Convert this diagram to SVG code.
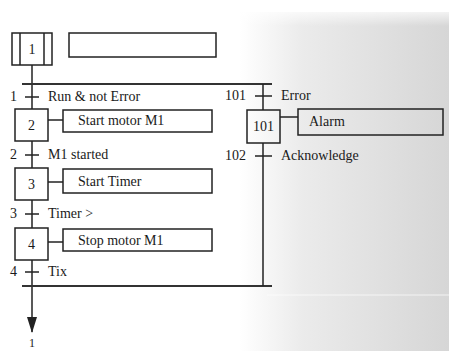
<svg xmlns="http://www.w3.org/2000/svg" width="449" height="351" viewBox="0 0 449 351" font-family="'Liberation Serif', 'DejaVu Serif', serif">
<defs>
<linearGradient id="bg" x1="0" y1="0" x2="1" y2="0">
<stop offset="0" stop-color="#ffffff"/>
<stop offset="0.3" stop-color="#ebebeb"/>
<stop offset="1" stop-color="#d6d6d6"/>
</linearGradient>
<linearGradient id="bgtop" x1="0" y1="0" x2="0" y2="1">
<stop offset="0" stop-color="#ffffff" stop-opacity="1"/>
<stop offset="1" stop-color="#ffffff" stop-opacity="0"/>
</linearGradient>
<marker id="arr" markerWidth="16" markerHeight="10" refX="15" refY="5" orient="auto" markerUnits="userSpaceOnUse" viewBox="0 0 16 10">
<path d="M0,0 L16,5 L0,10 Z" fill="#222"/>
</marker>
</defs>
<style>
.box{fill:none;stroke:#222;stroke-width:1.5}
.ln{fill:none;stroke:#222;stroke-width:1.5}
.bar{fill:none;stroke:#333;stroke-width:2}
text{font-family:"Liberation Serif","DejaVu Serif",serif;font-size:14px;fill:#1a1a1a}
.n{text-anchor:middle}
.e{text-anchor:end}
</style>
<rect width="449" height="351" fill="#ffffff"/>
<rect x="240" y="12" width="209" height="339" fill="url(#bg)"/>
<rect x="240" y="12" width="209" height="14" fill="url(#bgtop)" opacity="0.7"/>
<line x1="267" y1="295" x2="449" y2="295" stroke="#ffffff" stroke-width="1" opacity="0.7"/>

<g id="connectors">
<line class="ln" x1="32" y1="65" x2="32" y2="109"/>
<line class="bar" x1="22" y1="84" x2="272" y2="84"/>
<line class="ln" x1="32" y1="141" x2="32" y2="168"/>
<line class="ln" x1="32" y1="200" x2="32" y2="228"/>
<line class="ln" x1="32" y1="260" x2="32" y2="332" marker-end="url(#arr)"/>
<line class="bar" x1="22" y1="286" x2="272" y2="286"/>
<line class="ln" x1="263" y1="84" x2="263" y2="110"/>
<line class="ln" x1="263" y1="143" x2="263" y2="286"/>
<line class="ln" x1="48" y1="120" x2="63" y2="120"/>
<line class="ln" x1="48" y1="182" x2="63" y2="182"/>
<line class="ln" x1="48" y1="242" x2="63" y2="242"/>
<line class="ln" x1="280" y1="117" x2="298" y2="117"/>
</g>

<g id="step1">
<rect class="box" x="12" y="33" width="40" height="32"/>
<line class="ln" x1="20" y1="33" x2="20" y2="65"/>
<line class="ln" x1="44" y1="33" x2="44" y2="65"/>
<text class="n" x="32" y="54">1</text>
</g>
<g id="action1">
<rect class="box" x="69" y="33" width="147" height="24"/>
</g>

<g id="t1">
<line class="ln" x1="25" y1="97" x2="39" y2="97"/>
<text class="e" x="17" y="101">1</text>
<text x="48" y="101">Run &amp; not Error</text>
</g>
<g id="step2">
<rect class="box" x="15" y="109" width="33" height="32"/>
<text class="n" x="31.5" y="130">2</text>
</g>
<g id="action2">
<rect class="box" x="63" y="110" width="149" height="22"/>
<text x="78" y="125">Start motor M1</text>
</g>

<g id="t2">
<line class="ln" x1="25" y1="155" x2="39" y2="155"/>
<text class="e" x="17" y="159">2</text>
<text x="48" y="159">M1 started</text>
</g>
<g id="step3">
<rect class="box" x="15" y="168" width="33" height="32"/>
<text class="n" x="31.5" y="189">3</text>
</g>
<g id="action3">
<rect class="box" x="63" y="169" width="149" height="24"/>
<text x="78" y="186">Start Timer</text>
</g>

<g id="t3">
<line class="ln" x1="25" y1="214" x2="39" y2="214"/>
<text class="e" x="17" y="218">3</text>
<text x="48" y="218">Timer &gt;</text>
</g>
<g id="step4">
<rect class="box" x="15" y="228" width="33" height="32"/>
<text class="n" x="31.5" y="249">4</text>
</g>
<g id="action4">
<rect class="box" x="63" y="229" width="149" height="22"/>
<text x="78" y="245">Stop motor M1</text>
</g>

<g id="t4">
<line class="ln" x1="25" y1="272" x2="39" y2="272"/>
<text class="e" x="17" y="276">4</text>
<text x="48" y="276">Tix</text>
</g>

<g id="t101">
<line class="ln" x1="255" y1="96" x2="272" y2="96"/>
<text class="e" x="246" y="100">101</text>
<text x="281" y="100">Error</text>
</g>
<g id="step101">
<rect class="box" x="247" y="110" width="33" height="33"/>
<text class="n" x="263.5" y="131">101</text>
</g>
<g id="action101">
<rect class="box" x="298" y="109" width="145" height="26"/>
<text x="309" y="126">Alarm</text>
</g>
<g id="t102">
<line class="ln" x1="255" y1="156" x2="272" y2="156"/>
<text class="e" x="246" y="160">102</text>
<text x="281" y="160">Acknowledge</text>
</g>

<g id="jump">
<text class="n" x="32" y="347" style="font-size:12px">1</text>
</g>
</svg>
